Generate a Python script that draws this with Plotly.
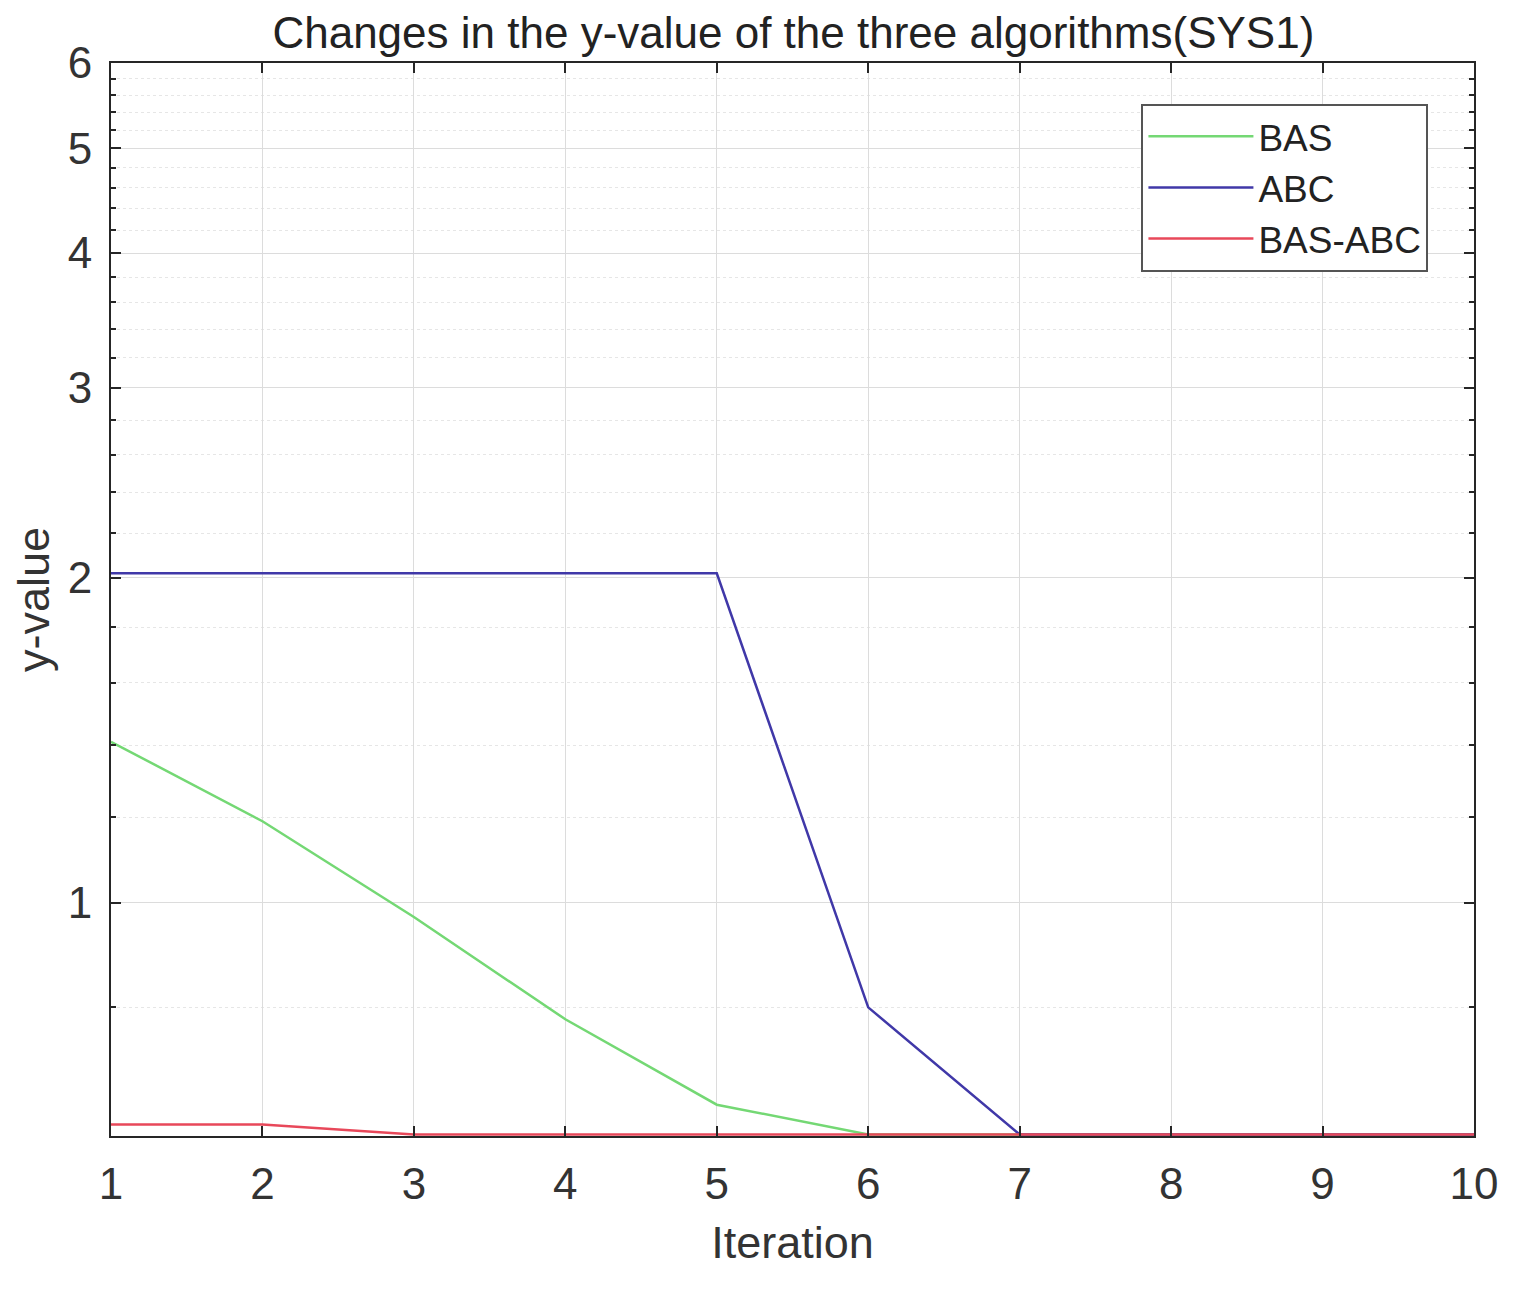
import numpy as np
import plotly.graph_objects as go

# iteration numbers
iterations = [1, 2, 3, 4, 5, 6, 7, 8, 9, 10]

# y-values (log axis)
bas = [1.41, 1.19, 0.97, 0.78, 0.65, 0.61, 0.61, 0.61, 0.61, 0.61]
abc = [2.02, 2.02, 2.02, 2.02, 2.02, 0.80, 0.61, 0.61, 0.61, 0.61]
bas_abc = [0.623, 0.623, 0.61, 0.61, 0.61, 0.61, 0.61, 0.61, 0.61, 0.61]

y_ticks = [1, 2, 3, 4, 5, 6]
y_minor = [0.8, 1.2, 1.4, 1.6, 1.8, 2.2, 2.4, 2.6, 2.8, 3.2, 3.4, 3.6, 3.8,
           4.2, 4.4, 4.6, 4.8, 5.2, 5.4, 5.6, 5.8]

fig = go.Figure()

# the three algorithm curves
fig.add_trace(go.Scatter(x=iterations, y=bas, mode='lines', name='BAS',
                         line=dict(color='#74d874', width=2.5)))
fig.add_trace(go.Scatter(x=iterations, y=abc, mode='lines', name='ABC',
                         line=dict(color='#4038a8', width=2.5)))
fig.add_trace(go.Scatter(x=iterations, y=bas_abc, mode='lines', name='BAS-ABC',
                         line=dict(color='#e8485a', width=2.5)))

font = 'Liberation Sans, Arial, sans-serif'

fig.update_xaxes(range=[1, 10], tickvals=iterations,
                 showline=True, linecolor='#262626', linewidth=2, mirror='ticks',
                 ticks='inside', ticklen=10, tickcolor='#262626', tickwidth=1.5,
                 showgrid=True, gridcolor='#dcdcdc', gridwidth=1,
                 zeroline=False, ticklabelstandoff=8,
                 tickfont=dict(size=44, color='#333333', family=font),
                 title=dict(text='Iteration', font=dict(size=45, color='#333333', family=font),
                            standoff=20))

fig.update_yaxes(type='log', range=[np.log10(0.608), np.log10(6)], tickvals=y_ticks,
                 showline=True, linecolor='#262626', linewidth=2, mirror='ticks',
                 ticks='inside', ticklen=10, tickcolor='#262626', tickwidth=1.5,
                 showgrid=True, gridcolor='#dcdcdc', gridwidth=1,
                 minor=dict(tickvals=y_minor, ticks='inside', ticklen=5, tickcolor='#262626',
                            showgrid=True, gridcolor='#e6e6e6', griddash='dot', gridwidth=1),
                 zeroline=False, ticklabelstandoff=8,
                 tickfont=dict(size=44, color='#333333', family=font),
                 title=dict(text='y-value', font=dict(size=45, color='#333333', family=font),
                            standoff=6))

fig.update_layout(
    width=1525, height=1299,
    margin=dict(l=103, r=59, t=55, b=171),
    paper_bgcolor='white', plot_bgcolor='white',
    title=dict(text='Changes in the y-value of the three algorithms(SYS1)',
               x=0.515, xanchor='center', y=0.993, yanchor='top',
               font=dict(size=44, color='#222222', family=font)),
    legend=dict(x=0.756, y=0.962, xanchor='left', yanchor='top',
                bgcolor='white', bordercolor='#555555', borderwidth=2,
                font=dict(size=37, color='#222222', family=font),
                tracegroupgap=0, itemwidth=105),
    showlegend=True,
)

fig.write_html("out.html")
